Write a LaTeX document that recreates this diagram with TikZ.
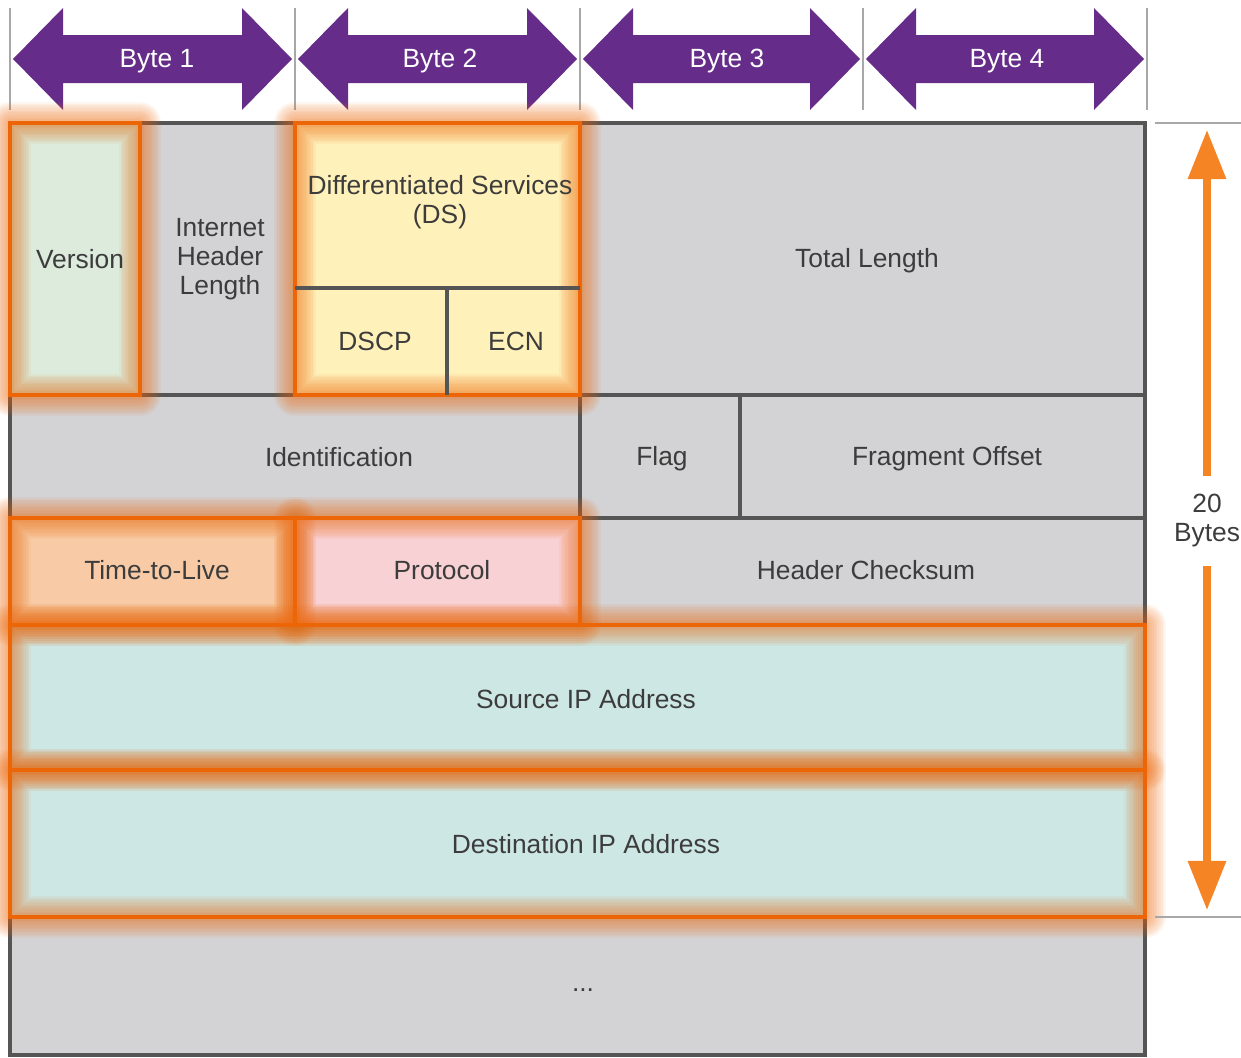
\documentclass[tikz,border=0pt]{standalone}
\usepackage{fontspec}
\setmainfont{Liberation Sans}
\usetikzlibrary{arrows.meta}

\definecolor{cellgray}{HTML}{D3D2D4}
\definecolor{rulegray}{HTML}{555555}
\definecolor{tickgray}{HTML}{A8A8A8}
\definecolor{bytepurple}{HTML}{652D89}
\definecolor{glow}{HTML}{EC6608}
\definecolor{verfill}{HTML}{DCEBDC}
\definecolor{dsfill}{HTML}{FFF1BA}
\definecolor{ttlfill}{HTML}{F8CBA6}
\definecolor{protofill}{HTML}{F8D1D4}
\definecolor{ipfill}{HTML}{CDE7E5}
\definecolor{sizeorange}{HTML}{F58424}
\definecolor{txt}{HTML}{3C3C3C}

\tikzset{
	lbl/.style={text=txt, font=\fontsize{15}{16.5}\selectfont, align=center, inner sep=0pt},
	bytelbl/.style={text=white, font=\fontsize{15}{16.5}\selectfont, inner sep=0pt},
	cellrule/.style={draw=rulegray, line width=2.3pt},
	tickline/.style={draw=tickgray, line width=0.9pt},
	hilite/.style={draw=glow, line width=2.2pt}
}

\begin{document}
\begin{tikzpicture}[x=0.02cm, y=-0.02cm]

		\useasboundingbox (0,0) rectangle (1241,1058);

		% byte arrows
		\foreach \l/\r in {10/295, 295/580, 580/863, 863/1147}
			\draw[tickline] (\l,8) -- (\l,110);
		\draw[tickline] (1147,8) -- (1147,110);
		\foreach \l/\r in {10/295, 295/580, 580/863, 863/1147}
			\fill[bytepurple] (\l+3,59) -- (\l+53,8) -- (\l+53,35) -- (\r-53,35) -- (\r-53,8)
				-- (\r-3,59) -- (\r-53,110) -- (\r-53,83) -- (\l+53,83) -- (\l+53,110) -- cycle;
		\node[bytelbl] (b1) at (157,61) {Byte 1};
		\node[bytelbl] (b2) at (440,61) {Byte 2};
		\node[bytelbl] (b3) at (727,61) {Byte 3};
		\node[bytelbl] (b4) at (1007,61) {Byte 4};

		% cells
		\fill[cellgray] (10,123) rectangle (1145,1055);
		\fill[verfill] (10,123) rectangle (140,395);
		\fill[dsfill] (295,123) rectangle (580,395);
		\fill[ttlfill] (10,518) rectangle (295,625);
		\fill[protofill] (295,518) rectangle (580,625);
		\fill[ipfill] (10,625) rectangle (1145,917);

		\draw[cellrule] (10,123) rectangle (1145,1055);
		\foreach \y in {395, 518, 625, 770, 917}
			\draw[cellrule] (10,\y) -- (1145,\y);
		\draw[cellrule] (140,123) -- (140,395);
		\draw[cellrule] (295,123) -- (295,395);
		\draw[cellrule] (580,123) -- (580,625);
		\draw[cellrule] (740,395) -- (740,518);
		\draw[cellrule] (295,518) -- (295,625);

		% glow round the highlighted fields
		\foreach \xa/\ya/\xb/\yb in {10/123/140/395, 295/123/580/395, 10/518/295/625,
				295/518/580/625, 10/625/1145/770, 10/770/1145/917} {
			\foreach \w in {2,4,...,24}
				\draw[glow, line width=\w pt, opacity=0.06, line join=round] (\xa,\ya) rectangle (\xb,\yb);
			\draw[hilite] (\xa,\ya) rectangle (\xb,\yb);
		}
		\draw[cellrule] (295,288) -- (580,288);
		\draw[cellrule] (447,288) -- (447,395);

		% field names
		\node[lbl] (ver) at (80,259) {Version};
		\node[lbl] (ihl) at (220,259) {Internet\\Header\\Length};
		\node[lbl] (ds) at (440,202) {Differentiated Services\\(DS)};
		\node[lbl] (dscp) at (375,341) {DSCP};
		\node[lbl] (ecn) at (516,341) {ECN};
		\node[lbl] (tlen) at (867,261) {Total Length};
		\node[lbl] (ident) at (339,457) {Identification};
		\node[lbl] (flag) at (662,459) {Flag};
		\node[lbl] (frag) at (947,459) {Fragment Offset};
		\node[lbl] (ttl) at (157,570) {Time-to-Live};
		\node[lbl] (proto) at (442,570) {Protocol};
		\node[lbl] (csum) at (866,570) {Header Checksum};
		\node[lbl] (src) at (586,699) {Source IP Address};
		\node[lbl] (dst) at (586,844) {Destination IP Address};
		\node[lbl] (more) at (583,990) {...};

		% header size
		\draw[tickline] (1155,123) -- (1241,123);
		\draw[tickline] (1155,917) -- (1241,917);
		\node[lbl, minimum height=51pt] (size) at (1207,521) {20\\Bytes};
		\coordinate (sztop) at (1207,130);
		\coordinate (szbot) at (1207,910);
		\draw[sizeorange, line width=4pt, -{Triangle[width=21pt,length=28pt]}] (size) -- (sztop);
		\draw[sizeorange, line width=4pt, -{Triangle[width=21pt,length=28pt]}] (size) -- (szbot);

	\end{tikzpicture}
\end{document}
